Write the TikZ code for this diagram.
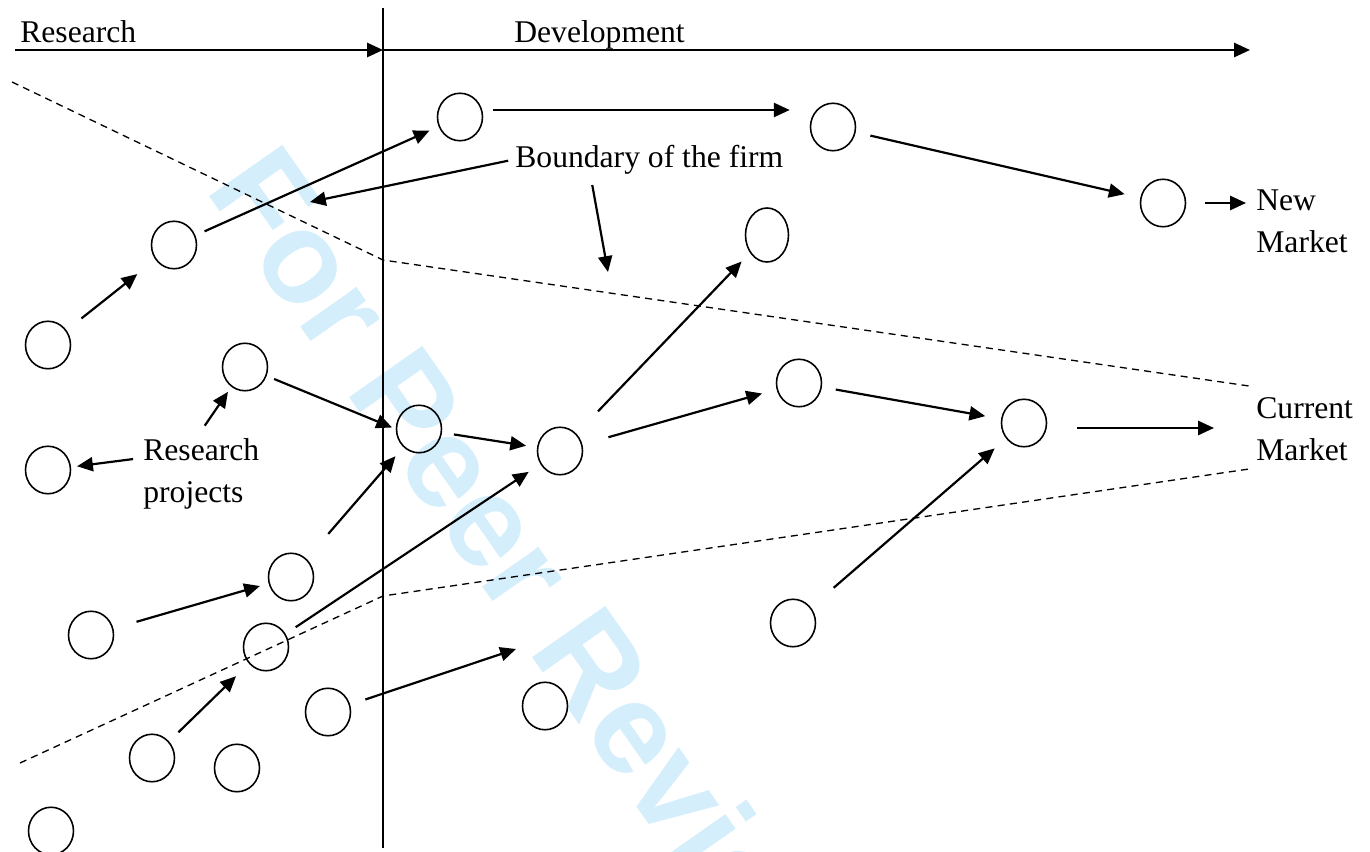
\documentclass[tikz,border=0pt]{standalone}
\usepackage{fontspec}
\setmainfont{Liberation Serif}
\newfontfamily\wmfont{Liberation Sans}
\usetikzlibrary{shapes.geometric,arrows.meta}
\definecolor{wmblue}{RGB}{213,238,252}
\begin{document}
\begin{tikzpicture}[x=0.02cm,y=-0.02cm,
    proj/.style={draw,ellipse,line width=0.9pt,minimum width=0.9cm,minimum height=0.95cm,inner sep=0pt},
    arr/.style={-{Triangle[length=9pt,width=8pt]},line width=1.25pt},
    txt/.style={inner sep=0pt,font=\fontsize{18}{24}\selectfont},
    bound/.style={dash pattern=on 4pt off 3pt,line width=0.75pt},
    wmark/.style={inner sep=0pt,text=wmblue,font=\wmfont\bfseries\fontsize{74}{80}\selectfont}]
  \useasboundingbox (0,0) rectangle (1370,852);
  \begin{scope}
    \clip (0,0) rectangle (1370,852);
    \node[wmark,anchor=base west,rotate=-55] (wm) at (204,189) {For Peer Review};
  \end{scope}
  \draw[arr] (15,50) -- (383,50);
  \draw[arr] (383,50) -- (1250,50);
  \draw[line width=0.75pt] (383,8) -- (383,848);
  \node[txt,anchor=base west] (res) at (20,42) {Research};
  \node[txt,anchor=base west] (dev) at (514,42) {Development};
  \draw[bound] (12,82) -- (383,260) -- (1249,386);
  \draw[bound] (20,763) -- (383,596) -- (1249,469);
  \foreach \n/\x/\y in {p1/460/117,p2/833/127,p3/1163/203,p4/174/245,p6/48/345,
      p7/245/367,p8/419/429,p9/560/451,p10/799/383,p11/1024/423,p12/48/470,
      p13/291/577,p14/91/635,p15/266/647,p16/793/623,p17/328/712,p18/545/706,
      p19/152/758,p20/237/768,p21/51/831}
    \node[proj] (\n) at (\x,\y) {};
  \node[proj,minimum width=0.86cm,minimum height=1.08cm] (p5) at (767,235) {};
  \node[txt,anchor=base west] (bnd) at (515,167) {Boundary of the firm};
  \node[txt,align=left,anchor=north west] (rp) at (143,438) {Research\\projects};
  \node[txt,align=left,anchor=north west] (newmkt) at (1256,189) {New\\Market};
  \node[txt,align=left,anchor=north west] (curmkt) at (1256,397) {Current\\Market};
  \coordinate (bndA) at (310,202);
  \coordinate (bndB) at (608,272);
  \coordinate (fre) at (516,649);
  \draw[arr,shorten <=0.38cm,shorten >=0.46cm] (p6) -- (p4);
  \draw[arr,shorten <=0.2cm,shorten >=0.2cm] (p4) -- (p1);
  \draw[arr,shorten <=0.2cm,shorten >=0.4cm] ([yshift=0.14cm]p1.east) -- ([yshift=0.14cm]p1.east -| p2.west);
  \draw[arr,shorten <=0.3cm,shorten >=0.32cm] (p2) -- (p3);
  \draw[arr,shorten <=0.38cm,shorten >=0.2cm] (p3.east) -- (p3.east -| newmkt.west);
  \draw[arr,shorten <=0.14cm] (bnd.west) -- (bndA);
  \draw[arr,shorten <=0.22cm] ([xshift=-1.18cm]bnd.south) -- (bndB);
  \draw[arr,shorten <=0.16cm,shorten >=0.08cm] (p7) -- (p8.west);
  \draw[arr,shorten <=0.24cm,shorten >=0.22cm] (p8) -- (p9);
  \draw[arr,shorten <=0.3cm,shorten >=0.12cm] ([xshift=-0.1cm]rp.north) -- (p7);
  \draw[arr,shorten <=0.2cm,shorten >=0.12cm] ([yshift=0.32cm]rp.west) -- (p12);
  \draw[arr,shorten <=0.66cm,shorten >=0.24cm] (p13) -- (p8);
  \draw[arr,shorten <=0.48cm,shorten >=0.18cm] (p14) -- (p13);
  \draw[arr,shorten <=0.24cm,shorten >=0.28cm] (p15) -- (p9);
  \draw[arr,shorten <=0.26cm,shorten >=0.36cm] (p19) -- (p15);
  \draw[arr,shorten <=0.32cm] (p17) -- (fre);
  \draw[arr,shorten <=0.62cm,shorten >=0.24cm] (p9) -- (p5);
  \draw[arr,shorten <=0.54cm,shorten >=0.3cm] (p9) -- (p10);
  \draw[arr,shorten <=0.28cm,shorten >=0.32cm] (p10) -- (p11);
  \draw[arr,shorten <=0.6cm,shorten >=0.84cm] ([yshift=-0.1cm]p11.east) -- ([yshift=-0.1cm]p11.east -| curmkt.west);
  \draw[arr,shorten <=0.6cm,shorten >=0.3cm] (p16) -- (p11);
\end{tikzpicture}
\end{document}
